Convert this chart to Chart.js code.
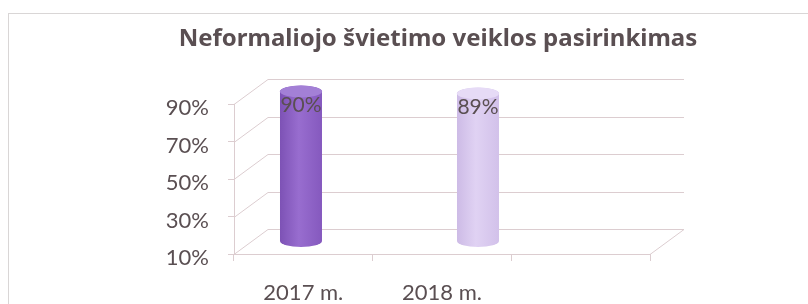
<!DOCTYPE html>
<html>
<head>
<meta charset="utf-8">
<script src="https://cdn.jsdelivr.net/npm/chart.js@4"></script>
<style>
  html, body { margin: 0; padding: 0; background: #fff; overflow: hidden; }
</style>
</head>
<body>
<canvas id="chart" width="808" height="304"></canvas>
<script>
const categories = ['2017 m.', '2018 m.', ''];
const values = [90, 89];
const yTicks = [10, 30, 50, 70, 90];
const titleText = 'Neformaliojo švietimo veiklos pasirinkimas';

const gridColor = '#dccdd0';
const textColor = '#5a4f52';
// body gradient: left edge, middle, right edge; then cap colour
const barShades = [
    ['#7d52b5', '#986dcf', '#8559be', '#a380d6'],
    ['#cdbbe6', '#e0d2f3', '#d2c1ea', '#e6dbf6']
];
const depthX = 34;
const depthY = -25;

// back wall, side wall and floor of the 3d box
const wallPlugin = {
    id: 'walls',
    beforeDatasetsDraw(chart) {
        const ctx = chart.ctx;
        const area = chart.chartArea;
        const y = chart.scales.y;
        ctx.save();
        ctx.strokeStyle = gridColor;
        ctx.lineWidth = 1;
        ctx.beginPath();
        yTicks.forEach(v => {
            const py = Math.round(y.getPixelForValue(v)) + 0.5;
            ctx.moveTo(area.left, py);
            ctx.lineTo(area.left + depthX, py + depthY);
            ctx.lineTo(area.right + depthX, py + depthY);
        });
        const by = Math.round(area.bottom) + 0.5;
        ctx.moveTo(area.right, by);
        ctx.lineTo(area.right + depthX, by + depthY);
        ctx.stroke();
        ctx.restore();
    }
};

function drawCylinder(ctx, cx, top, bottom, w, shades) {
    const rx = w / 2, ry = 6;
    const g = ctx.createLinearGradient(cx - rx, 0, cx + rx, 0);
    g.addColorStop(0, shades[0]);
    g.addColorStop(0.45, shades[1]);
    g.addColorStop(1, shades[2]);
    ctx.beginPath();
    ctx.moveTo(cx - rx, top);
    ctx.lineTo(cx - rx, bottom);
    ctx.ellipse(cx, bottom, rx, ry, 0, Math.PI, 0, true);
    ctx.lineTo(cx + rx, top);
    ctx.ellipse(cx, top, rx, ry, 0, 0, Math.PI, true);
    ctx.closePath();
    ctx.fillStyle = g;
    ctx.fill();
    ctx.beginPath();
    ctx.ellipse(cx, top, rx, ry, 0, 0, Math.PI * 2);
    ctx.fillStyle = shades[3];
    ctx.fill();
}

const cylinderPlugin = {
    id: 'cylinders',
    afterDatasetsDraw(chart) {
        const ctx = chart.ctx;
        const meta = chart.getDatasetMeta(0);
        const shift = depthY / 2;
        ctx.save();
        meta.data.forEach((bar, i) => {
            const p = bar.getProps(['x', 'y', 'base', 'width'], true);
            drawCylinder(ctx, p.x, p.y + shift, p.base + shift, p.width, barShades[i]);
            ctx.font = '21px Lato';
            ctx.fillStyle = textColor;
            ctx.textAlign = 'center';
            ctx.textBaseline = 'middle';
            ctx.fillText(values[i] + '%', p.x, p.y + shift + 14);
        });
        ctx.restore();
    }
};

const framePlugin = {
    id: 'frame',
    beforeDraw(chart) {
        const ctx = chart.ctx;
        ctx.save();
        ctx.strokeStyle = '#d9d6d6';
        ctx.lineWidth = 1;
        ctx.strokeRect(8.5, 13.5, chart.width, chart.height);
        ctx.restore();
    }
};

new Chart(document.getElementById('chart'), {
    type: 'bar',
    data: {
        labels: categories,
        datasets: [{
            data: values.map((v, i) => ({ x: i, y: v })),
            xAxisID: 'xb',
            base: yTicks[0],
            backgroundColor: 'rgba(0,0,0,0)',
            barThickness: 42
        }]
    },
    options: {
        responsive: false,
        animation: false,
        layout: { padding: { left: 68, right: 0, top: 0, bottom: 0 } },
        plugins: {
            legend: { display: false },
            tooltip: { enabled: false },
            title: {
                display: true,
                text: titleText,
                color: textColor,
                font: { family: 'Noto Sans', size: 24, weight: 'bold' },
                padding: { top: 25, bottom: 50.2 }
            }
        },
        scales: {
            x: {
                type: 'category',
                offset: true,
                grid: { offset: true, drawOnChartArea: false, drawTicks: true, tickLength: 7, color: gridColor },
                border: { color: gridColor },
                ticks: { color: textColor, font: { family: 'Lato', size: 22 }, padding: 19, maxRotation: 0 },
                afterFit(scale) { scale.height = 50; }
            },
            // hidden axis the cylinders stand on (the 3d view spreads them wider)
            xb: {
                type: 'linear',
                display: false,
                offset: false,
                min: -0.3785,
                max: 1.9718
            },
            y: {
                min: 10,
                max: 90,
                afterBuildTicks(scale) { scale.ticks = yTicks.map(v => ({ value: v })); },
                grid: { drawOnChartArea: false, drawTicks: true, tickLength: 6, color: gridColor },
                border: { color: gridColor },
                ticks: {
                    color: textColor,
                    font: { family: 'Lato', size: 22 },
                    padding: 19,
                    labelOffset: 4,
                    callback: v => v + '%'
                },
                afterFit(scale) { scale.width = 166; }
            },
            // empty right-hand space, keeps the plot narrower than the frame
            yr: {
                position: 'right',
                grid: { display: false },
                border: { display: false },
                ticks: { display: false },
                afterFit(scale) { scale.width = 158; }
            }
        }
    },
    plugins: [framePlugin, wallPlugin, cylinderPlugin]
});
</script>
</body>
</html>
